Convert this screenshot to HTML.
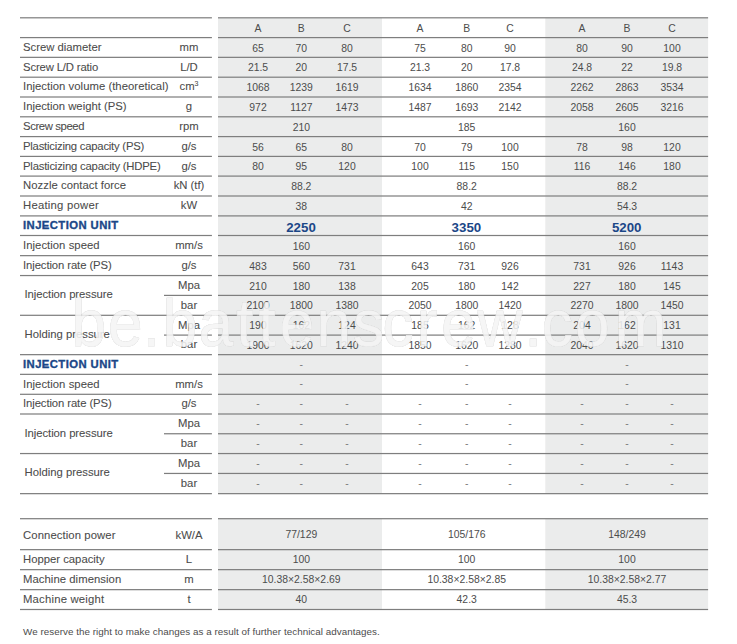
<!DOCTYPE html>
<html lang="en">
<head>
<meta charset="utf-8">
<title>Injection unit specifications</title>
<style>
html,body{margin:0;padding:0;background:#fff}
body{width:737px;height:644px;overflow:hidden}
svg{display:block;font-family:"Liberation Sans",Arial,sans-serif}
.l{font-size:11.3px;fill:#4c4c4c;stroke:#4c4c4c;stroke-width:.08px}
.u{font-size:11.3px;fill:#4c4c4c;text-anchor:middle;stroke:#4c4c4c;stroke-width:.08px}
.d{font-size:10.4px;fill:#4c4c4c;text-anchor:middle}
.h{font-size:11.3px;font-weight:bold;fill:#1b4788;letter-spacing:.42px;stroke:#1b4788;stroke-width:.35px}
.n{font-size:13.3px;font-weight:bold;fill:#1b4788;text-anchor:middle}
.m{fill:#7a7a7a}
.f{font-size:9.82px;fill:#4c4c4c}
.r{fill:#7e7e7e}
.g{fill:#ebecec}
.wm{font-size:67.5px;fill:#f5f5f5;stroke:#f5f5f5;stroke-width:.7px;opacity:.87;filter:drop-shadow(.9px .9px .5px rgba(60,60,60,.37))}
</style>
</head>
<body>
<svg width="737" height="644" viewBox="0 0 737 644">
<rect class="g" x="218.0" y="17.8" width="164.0" height="475.8"/>
<rect class="g" x="218.0" y="518.7" width="164.0" height="90.8"/>
<rect class="g" x="545.3" y="17.8" width="162.8" height="475.8"/>
<rect class="g" x="545.3" y="518.7" width="162.8" height="90.8"/>
<rect class="r" x="20.0" y="17.19" width="191.9" height="1.22"/>
<rect class="r" x="218.0" y="17.19" width="490.1" height="1.22"/>
<rect class="r" x="20.0" y="36.99" width="191.9" height="1.22"/>
<rect class="r" x="218.0" y="36.99" width="490.1" height="1.22"/>
<rect class="r" x="20.0" y="56.74" width="191.9" height="1.22"/>
<rect class="r" x="218.0" y="56.74" width="490.1" height="1.22"/>
<rect class="r" x="20.0" y="76.59" width="191.9" height="1.22"/>
<rect class="r" x="218.0" y="76.59" width="490.1" height="1.22"/>
<rect class="r" x="20.0" y="96.39" width="191.9" height="1.22"/>
<rect class="r" x="218.0" y="96.39" width="490.1" height="1.22"/>
<rect class="r" x="20.0" y="116.19" width="191.9" height="1.22"/>
<rect class="r" x="218.0" y="116.19" width="490.1" height="1.22"/>
<rect class="r" x="20.0" y="135.99" width="191.9" height="1.22"/>
<rect class="r" x="218.0" y="135.99" width="490.1" height="1.22"/>
<rect class="r" x="20.0" y="155.79" width="191.9" height="1.22"/>
<rect class="r" x="218.0" y="155.79" width="490.1" height="1.22"/>
<rect class="r" x="20.0" y="175.49" width="191.9" height="1.22"/>
<rect class="r" x="218.0" y="175.49" width="490.1" height="1.22"/>
<rect class="r" x="20.0" y="195.39" width="191.9" height="1.22"/>
<rect class="r" x="218.0" y="195.39" width="490.1" height="1.22"/>
<rect class="r" x="20.0" y="215.29" width="191.9" height="1.22"/>
<rect class="r" x="218.0" y="215.29" width="490.1" height="1.22"/>
<rect class="r" x="20.0" y="234.89" width="191.9" height="1.22"/>
<rect class="r" x="218.0" y="234.89" width="490.1" height="1.22"/>
<rect class="r" x="20.0" y="255.04" width="191.9" height="1.22"/>
<rect class="r" x="218.0" y="255.04" width="490.1" height="1.22"/>
<rect class="r" x="20.0" y="274.94" width="191.9" height="1.22"/>
<rect class="r" x="218.0" y="274.94" width="490.1" height="1.22"/>
<rect class="r" x="164.0" y="294.79" width="47.9" height="1.22"/>
<rect class="r" x="218.0" y="294.79" width="490.1" height="1.22"/>
<rect class="r" x="20.0" y="314.69" width="191.9" height="1.22"/>
<rect class="r" x="218.0" y="314.69" width="490.1" height="1.22"/>
<rect class="r" x="164.0" y="334.49" width="47.9" height="1.22"/>
<rect class="r" x="218.0" y="334.49" width="490.1" height="1.22"/>
<rect class="r" x="20.0" y="354.04" width="191.9" height="1.22"/>
<rect class="r" x="218.0" y="354.04" width="490.1" height="1.22"/>
<rect class="r" x="20.0" y="373.74" width="191.9" height="1.22"/>
<rect class="r" x="218.0" y="373.74" width="490.1" height="1.22"/>
<rect class="r" x="20.0" y="393.69" width="191.9" height="1.22"/>
<rect class="r" x="218.0" y="393.69" width="490.1" height="1.22"/>
<rect class="r" x="20.0" y="413.39" width="191.9" height="1.22"/>
<rect class="r" x="218.0" y="413.39" width="490.1" height="1.22"/>
<rect class="r" x="164.0" y="433.14" width="47.9" height="1.22"/>
<rect class="r" x="218.0" y="433.14" width="490.1" height="1.22"/>
<rect class="r" x="20.0" y="452.94" width="191.9" height="1.22"/>
<rect class="r" x="218.0" y="452.94" width="490.1" height="1.22"/>
<rect class="r" x="164.0" y="472.84" width="47.9" height="1.22"/>
<rect class="r" x="218.0" y="472.84" width="490.1" height="1.22"/>
<rect class="r" x="20.0" y="493.04" width="191.9" height="1.22"/>
<rect class="r" x="218.0" y="493.04" width="490.1" height="1.22"/>
<rect class="r" x="20.0" y="518.09" width="191.9" height="1.22"/>
<rect class="r" x="218.0" y="518.09" width="490.1" height="1.22"/>
<rect class="r" x="20.0" y="549.04" width="191.9" height="1.22"/>
<rect class="r" x="218.0" y="549.04" width="490.1" height="1.22"/>
<rect class="r" x="20.0" y="569.04" width="191.9" height="1.22"/>
<rect class="r" x="218.0" y="569.04" width="490.1" height="1.22"/>
<rect class="r" x="20.0" y="589.04" width="191.9" height="1.22"/>
<rect class="r" x="218.0" y="589.04" width="490.1" height="1.22"/>
<rect class="r" x="20.0" y="608.89" width="191.9" height="1.22"/>
<rect class="r" x="218.0" y="608.89" width="490.1" height="1.22"/>
<text class="d" x="258.0" y="31.7">A</text>
<text class="d" x="301.3" y="31.7">B</text>
<text class="d" x="347.0" y="31.7">C</text>
<text class="d" x="420.0" y="31.7">A</text>
<text class="d" x="466.7" y="31.7">B</text>
<text class="d" x="510.0" y="31.7">C</text>
<text class="d" x="582.0" y="31.7">A</text>
<text class="d" x="627.0" y="31.7">B</text>
<text class="d" x="672.0" y="31.7">C</text>
<text class="l" x="23.0" y="50.8">Screw diameter</text>
<text class="u" x="189.0" y="50.8">mm</text>
<text class="d" x="258.0" y="51.5">65</text>
<text class="d" x="301.3" y="51.5">70</text>
<text class="d" x="347.0" y="51.5">80</text>
<text class="d" x="420.0" y="51.5">75</text>
<text class="d" x="466.7" y="51.5">80</text>
<text class="d" x="510.0" y="51.5">90</text>
<text class="d" x="582.0" y="51.5">80</text>
<text class="d" x="627.0" y="51.5">90</text>
<text class="d" x="672.0" y="51.5">100</text>
<text class="l" x="23.0" y="70.6" textLength="75.2">Screw L/D ratio</text>
<text class="u" x="189.0" y="70.6">L/D</text>
<text class="d" x="258.0" y="71.3">21.5</text>
<text class="d" x="301.3" y="71.3">20</text>
<text class="d" x="347.0" y="71.3">17.5</text>
<text class="d" x="420.0" y="71.3">21.3</text>
<text class="d" x="466.7" y="71.3">20</text>
<text class="d" x="510.0" y="71.3">17.8</text>
<text class="d" x="582.0" y="71.3">24.8</text>
<text class="d" x="627.0" y="71.3">22</text>
<text class="d" x="672.0" y="71.3">19.8</text>
<text class="l" x="23.0" y="90.4" textLength="145.5">Injection volume (theoretical)</text>
<text class="u" x="189.0" y="90.4">cm<tspan dy="-4" font-size="7px">3</tspan></text>
<text class="d" x="258.0" y="91.1">1068</text>
<text class="d" x="301.3" y="91.1">1239</text>
<text class="d" x="347.0" y="91.1">1619</text>
<text class="d" x="420.0" y="91.1">1634</text>
<text class="d" x="466.7" y="91.1">1860</text>
<text class="d" x="510.0" y="91.1">2354</text>
<text class="d" x="582.0" y="91.1">2262</text>
<text class="d" x="627.0" y="91.1">2863</text>
<text class="d" x="672.0" y="91.1">3534</text>
<text class="l" x="23.0" y="110.2">Injection weight (PS)</text>
<text class="u" x="189.0" y="110.2">g</text>
<text class="d" x="258.0" y="110.9">972</text>
<text class="d" x="301.3" y="110.9">1127</text>
<text class="d" x="347.0" y="110.9">1473</text>
<text class="d" x="420.0" y="110.9">1487</text>
<text class="d" x="466.7" y="110.9">1693</text>
<text class="d" x="510.0" y="110.9">2142</text>
<text class="d" x="582.0" y="110.9">2058</text>
<text class="d" x="627.0" y="110.9">2605</text>
<text class="d" x="672.0" y="110.9">3216</text>
<text class="l" x="23.0" y="130.0" textLength="61.5">Screw speed</text>
<text class="u" x="189.0" y="130.0">rpm</text>
<text class="d" x="301.3" y="130.7">210</text>
<text class="d" x="466.7" y="130.7">185</text>
<text class="d" x="627.0" y="130.7">160</text>
<text class="l" x="23.0" y="149.8" textLength="121.3">Plasticizing capacity (PS)</text>
<text class="u" x="189.0" y="149.8">g/s</text>
<text class="d" x="258.0" y="150.5">56</text>
<text class="d" x="301.3" y="150.5">65</text>
<text class="d" x="347.0" y="150.5">80</text>
<text class="d" x="420.0" y="150.5">70</text>
<text class="d" x="466.7" y="150.5">79</text>
<text class="d" x="510.0" y="150.5">100</text>
<text class="d" x="582.0" y="150.5">78</text>
<text class="d" x="627.0" y="150.5">98</text>
<text class="d" x="672.0" y="150.5">120</text>
<text class="l" x="23.0" y="169.6" textLength="137.7">Plasticizing capacity (HDPE)</text>
<text class="u" x="189.0" y="169.6">g/s</text>
<text class="d" x="258.0" y="170.2">80</text>
<text class="d" x="301.3" y="170.2">95</text>
<text class="d" x="347.0" y="170.2">120</text>
<text class="d" x="420.0" y="170.2">100</text>
<text class="d" x="466.7" y="170.2">115</text>
<text class="d" x="510.0" y="170.2">150</text>
<text class="d" x="582.0" y="170.2">116</text>
<text class="d" x="627.0" y="170.2">146</text>
<text class="d" x="672.0" y="170.2">180</text>
<text class="l" x="23.0" y="189.4" textLength="103.1">Nozzle contact force</text>
<text class="u" x="189.0" y="189.4">kN (tf)</text>
<text class="d" x="301.3" y="190.1">88.2</text>
<text class="d" x="466.7" y="190.1">88.2</text>
<text class="d" x="627.0" y="190.1">88.2</text>
<text class="l" x="23.0" y="209.2" textLength="75.7">Heating power</text>
<text class="u" x="189.0" y="209.2">kW</text>
<text class="d" x="301.3" y="209.9">38</text>
<text class="d" x="466.7" y="209.9">42</text>
<text class="d" x="627.0" y="209.9">54.3</text>
<text class="h" x="23.0" y="229.2">INJECTION UNIT</text>
<text class="n" x="301.0" y="231.8">2250</text>
<text class="n" x="466.4" y="231.8">3350</text>
<text class="n" x="626.7" y="231.8">5200</text>
<text class="l" x="23.0" y="248.9" textLength="76.6">Injection speed</text>
<text class="u" x="189.0" y="248.9">mm/s</text>
<text class="d" x="301.3" y="249.6">160</text>
<text class="d" x="466.7" y="249.6">160</text>
<text class="d" x="627.0" y="249.6">160</text>
<text class="l" x="23.0" y="268.9" textLength="88.7">Injection rate (PS)</text>
<text class="u" x="189.0" y="268.9">g/s</text>
<text class="d" x="258.0" y="269.6">483</text>
<text class="d" x="301.3" y="269.6">560</text>
<text class="d" x="347.0" y="269.6">731</text>
<text class="d" x="420.0" y="269.6">643</text>
<text class="d" x="466.7" y="269.6">731</text>
<text class="d" x="510.0" y="269.6">926</text>
<text class="d" x="582.0" y="269.6">731</text>
<text class="d" x="627.0" y="269.6">926</text>
<text class="d" x="672.0" y="269.6">1143</text>
<text class="l" x="24.5" y="298.2" textLength="88.2">Injection pressure</text>
<text class="u" x="189.0" y="288.8">Mpa</text>
<text class="d" x="258.0" y="289.5">210</text>
<text class="d" x="301.3" y="289.5">180</text>
<text class="d" x="347.0" y="289.5">138</text>
<text class="d" x="420.0" y="289.5">205</text>
<text class="d" x="466.7" y="289.5">180</text>
<text class="d" x="510.0" y="289.5">142</text>
<text class="d" x="582.0" y="289.5">227</text>
<text class="d" x="627.0" y="289.5">180</text>
<text class="d" x="672.0" y="289.5">145</text>
<text class="u" x="189.0" y="308.7">bar</text>
<text class="d" x="258.0" y="309.4">2100</text>
<text class="d" x="301.3" y="309.4">1800</text>
<text class="d" x="347.0" y="309.4">1380</text>
<text class="d" x="420.0" y="309.4">2050</text>
<text class="d" x="466.7" y="309.4">1800</text>
<text class="d" x="510.0" y="309.4">1420</text>
<text class="d" x="582.0" y="309.4">2270</text>
<text class="d" x="627.0" y="309.4">1800</text>
<text class="d" x="672.0" y="309.4">1450</text>
<text class="l" x="24.5" y="337.8">Holding pressure</text>
<text class="u" x="189.0" y="328.5">Mpa</text>
<text class="d" x="258.0" y="329.2">190</text>
<text class="d" x="301.3" y="329.2">162</text>
<text class="d" x="347.0" y="329.2">124</text>
<text class="d" x="420.0" y="329.2">185</text>
<text class="d" x="466.7" y="329.2">162</text>
<text class="d" x="510.0" y="329.2">128</text>
<text class="d" x="582.0" y="329.2">204</text>
<text class="d" x="627.0" y="329.2">162</text>
<text class="d" x="672.0" y="329.2">131</text>
<text class="u" x="189.0" y="348.2">bar</text>
<text class="d" x="258.0" y="348.9">1900</text>
<text class="d" x="301.3" y="348.9">1620</text>
<text class="d" x="347.0" y="348.9">1240</text>
<text class="d" x="420.0" y="348.9">1850</text>
<text class="d" x="466.7" y="348.9">1620</text>
<text class="d" x="510.0" y="348.9">1280</text>
<text class="d" x="582.0" y="348.9">2040</text>
<text class="d" x="627.0" y="348.9">1620</text>
<text class="d" x="672.0" y="348.9">1310</text>
<text class="h" x="23.0" y="368.0">INJECTION UNIT</text>
<text class="d m" x="301.3" y="367.6">-</text>
<text class="d m" x="466.7" y="367.6">-</text>
<text class="d m" x="627.0" y="367.6">-</text>
<text class="l" x="23.0" y="387.6" textLength="76.6">Injection speed</text>
<text class="u" x="189.0" y="387.6">mm/s</text>
<text class="d m" x="301.3" y="387.4">-</text>
<text class="d m" x="466.7" y="387.4">-</text>
<text class="d m" x="627.0" y="387.4">-</text>
<text class="l" x="23.0" y="407.4" textLength="88.7">Injection rate (PS)</text>
<text class="u" x="189.0" y="407.4">g/s</text>
<text class="d m" x="258.0" y="407.2">-</text>
<text class="d m" x="301.3" y="407.2">-</text>
<text class="d m" x="347.0" y="407.2">-</text>
<text class="d m" x="420.0" y="407.2">-</text>
<text class="d m" x="466.7" y="407.2">-</text>
<text class="d m" x="510.0" y="407.2">-</text>
<text class="d m" x="582.0" y="407.2">-</text>
<text class="d m" x="627.0" y="407.2">-</text>
<text class="d m" x="672.0" y="407.2">-</text>
<text class="l" x="24.5" y="436.6" textLength="88.2">Injection pressure</text>
<text class="u" x="189.0" y="427.2">Mpa</text>
<text class="d m" x="258.0" y="427.0">-</text>
<text class="d m" x="301.3" y="427.0">-</text>
<text class="d m" x="347.0" y="427.0">-</text>
<text class="d m" x="420.0" y="427.0">-</text>
<text class="d m" x="466.7" y="427.0">-</text>
<text class="d m" x="510.0" y="427.0">-</text>
<text class="d m" x="582.0" y="427.0">-</text>
<text class="d m" x="627.0" y="427.0">-</text>
<text class="d m" x="672.0" y="427.0">-</text>
<text class="u" x="189.0" y="446.9">bar</text>
<text class="d m" x="258.0" y="446.8">-</text>
<text class="d m" x="301.3" y="446.8">-</text>
<text class="d m" x="347.0" y="446.8">-</text>
<text class="d m" x="420.0" y="446.8">-</text>
<text class="d m" x="466.7" y="446.8">-</text>
<text class="d m" x="510.0" y="446.8">-</text>
<text class="d m" x="582.0" y="446.8">-</text>
<text class="d m" x="627.0" y="446.8">-</text>
<text class="d m" x="672.0" y="446.8">-</text>
<text class="l" x="24.5" y="476.4">Holding pressure</text>
<text class="u" x="189.0" y="466.8">Mpa</text>
<text class="d m" x="258.0" y="466.6">-</text>
<text class="d m" x="301.3" y="466.6">-</text>
<text class="d m" x="347.0" y="466.6">-</text>
<text class="d m" x="420.0" y="466.6">-</text>
<text class="d m" x="466.7" y="466.6">-</text>
<text class="d m" x="510.0" y="466.6">-</text>
<text class="d m" x="582.0" y="466.6">-</text>
<text class="d m" x="627.0" y="466.6">-</text>
<text class="d m" x="672.0" y="466.6">-</text>
<text class="u" x="189.0" y="486.8">bar</text>
<text class="d m" x="258.0" y="486.6">-</text>
<text class="d m" x="301.3" y="486.6">-</text>
<text class="d m" x="347.0" y="486.6">-</text>
<text class="d m" x="420.0" y="486.6">-</text>
<text class="d m" x="466.7" y="486.6">-</text>
<text class="d m" x="510.0" y="486.6">-</text>
<text class="d m" x="582.0" y="486.6">-</text>
<text class="d m" x="627.0" y="486.6">-</text>
<text class="d m" x="672.0" y="486.6">-</text>
<text class="l" x="23.0" y="539.1" textLength="92.5">Connection power</text>
<text class="u" x="189.0" y="539.1">kW/A</text>
<text class="d" x="301.3" y="537.7">77/129</text>
<text class="d" x="466.7" y="537.7">105/176</text>
<text class="d" x="627.0" y="537.7">148/249</text>
<text class="l" x="23.0" y="563.4">Hopper capacity</text>
<text class="u" x="189.0" y="563.4">L</text>
<text class="d" x="301.3" y="563.2">100</text>
<text class="d" x="466.7" y="563.2">100</text>
<text class="d" x="627.0" y="563.2">100</text>
<text class="l" x="23.0" y="583.4" textLength="98.2">Machine dimension</text>
<text class="u" x="189.0" y="583.4">m</text>
<text class="d" x="301.3" y="583.2">10.38×2.58×2.69</text>
<text class="d" x="466.7" y="583.2">10.38×2.58×2.85</text>
<text class="d" x="627.0" y="583.2">10.38×2.58×2.77</text>
<text class="l" x="23.0" y="603.3" textLength="81.2">Machine weight</text>
<text class="u" x="189.0" y="603.3">t</text>
<text class="d" x="301.3" y="603.2">40</text>
<text class="d" x="466.7" y="603.2">42.3</text>
<text class="d" x="627.0" y="603.2">45.3</text>
<text class="f" x="23" y="634.6" textLength="356.7">We reserve the right to make changes as a result of further technical advantages.</text>
<text class="wm" transform="scale(.92,1)" x="77.7 117.5 155.3 176.8 216.0 256.8 281.0 304.0 344.0 383.7 415.7 452.9 479.7 519.0 570.2 588.9 624.9 668.1" y="346.3">be.battenscrew.com</text>
</svg>
</body>
</html>
